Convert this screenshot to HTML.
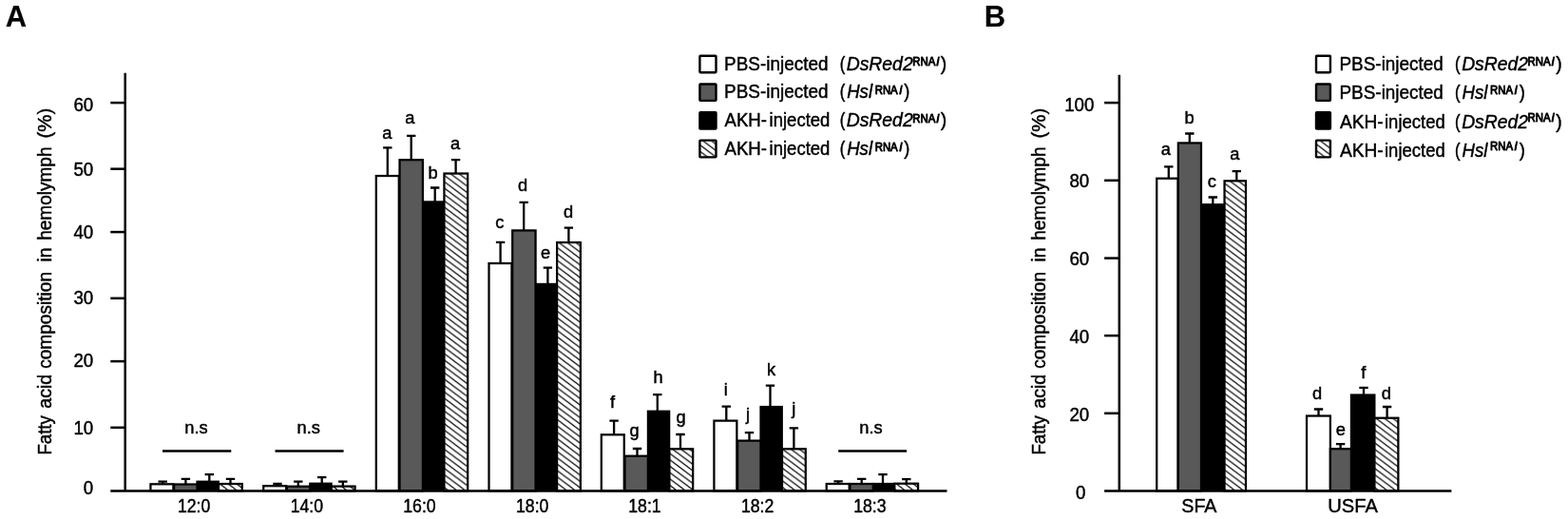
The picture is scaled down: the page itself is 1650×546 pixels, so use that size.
<!DOCTYPE html>
<html lang="en"><head><meta charset="utf-8"><title>Fatty acid composition in hemolymph</title>
<style>html,body{margin:0;padding:0;background:#fff}body{width:1650px;height:546px;overflow:hidden}svg{display:block}text{font-family:"Liberation Sans", sans-serif;fill:#000;stroke:#000;stroke-width:0.45px;stroke-linejoin:round}</style>
</head><body>
<svg width="1650" height="546" viewBox="0 0 1650 546">
<defs><pattern id="hatch" patternUnits="userSpaceOnUse" width="8.9" height="6.7" patternTransform="translate(0 0)"><rect width="8.9" height="6.7" fill="#fff"/><path d="M-8.90 -20.10L17.80 0.00M-8.90 -13.40L17.80 6.70M-8.90 -6.70L17.80 13.40M-8.90 0.00L17.80 20.10" stroke="#000" stroke-width="1.3" fill="none"/></pattern></defs>
<rect width="1650" height="546" fill="#fff"/>
<g id="figure">
<g id="panel-A">
<text x="5.8" y="28.0" font-size="31.0" font-weight="bold" style="stroke-width:0.1px">A</text>
<text transform="translate(54.1 478.60) rotate(-90)" font-size="20.2" textLength="41.50" lengthAdjust="spacingAndGlyphs">Fatty</text>
<text transform="translate(54.1 429.80) rotate(-90)" font-size="20.2" textLength="36.10" lengthAdjust="spacingAndGlyphs">acid</text>
<text transform="translate(54.1 387.80) rotate(-90)" font-size="20.2" textLength="101.80" lengthAdjust="spacingAndGlyphs">composition</text>
<text transform="translate(54.1 275.60) rotate(-90)" font-size="20.2" textLength="15.10" lengthAdjust="spacingAndGlyphs">in</text>
<text transform="translate(54.1 252.80) rotate(-90)" font-size="20.2" textLength="98.30" lengthAdjust="spacingAndGlyphs">hemolymph</text>
<text transform="translate(54.1 145.50) rotate(-90)" font-size="20.2" textLength="31.70" lengthAdjust="spacingAndGlyphs">(%)</text>
<rect x="158.43" y="509.32" width="23.95" height="7.18" fill="#fff" stroke="#000" stroke-width="2.25"/>
<rect x="206.40" y="505.60" width="24.50" height="10.90" fill="#000"/>
<rect x="183.12" y="509.52" width="24.35" height="6.98" fill="#595959" stroke="#000" stroke-width="2.25"/>
<rect x="230.03" y="509.02" width="24.75" height="7.48" fill="url(#hatch)" stroke="#000" stroke-width="2.25"/>
<rect x="277.23" y="511.23" width="23.95" height="5.27" fill="#fff" stroke="#000" stroke-width="2.25"/>
<rect x="325.20" y="507.60" width="24.50" height="8.90" fill="#000"/>
<rect x="301.93" y="511.73" width="24.35" height="4.77" fill="#595959" stroke="#000" stroke-width="2.25"/>
<rect x="348.82" y="511.62" width="24.75" height="4.88" fill="url(#hatch)" stroke="#000" stroke-width="2.25"/>
<rect x="395.82" y="185.03" width="23.95" height="331.48" fill="#fff" stroke="#000" stroke-width="2.25"/>
<rect x="443.80" y="211.30" width="24.50" height="305.20" fill="#000"/>
<rect x="420.52" y="168.22" width="24.35" height="348.27" fill="#595959" stroke="#000" stroke-width="2.25"/>
<rect x="467.43" y="182.53" width="24.75" height="333.98" fill="url(#hatch)" stroke="#000" stroke-width="2.25"/>
<rect x="514.52" y="277.02" width="23.95" height="239.48" fill="#fff" stroke="#000" stroke-width="2.25"/>
<rect x="562.50" y="297.80" width="24.50" height="218.70" fill="#000"/>
<rect x="539.23" y="242.43" width="24.35" height="274.07" fill="#595959" stroke="#000" stroke-width="2.25"/>
<rect x="586.12" y="255.03" width="24.75" height="261.48" fill="url(#hatch)" stroke="#000" stroke-width="2.25"/>
<rect x="632.83" y="457.32" width="23.95" height="59.18" fill="#fff" stroke="#000" stroke-width="2.25"/>
<rect x="680.80" y="431.60" width="24.50" height="84.90" fill="#000"/>
<rect x="657.52" y="479.73" width="24.35" height="36.77" fill="#595959" stroke="#000" stroke-width="2.25"/>
<rect x="704.42" y="472.32" width="24.75" height="44.18" fill="url(#hatch)" stroke="#000" stroke-width="2.25"/>
<rect x="751.42" y="442.62" width="23.95" height="73.88" fill="#fff" stroke="#000" stroke-width="2.25"/>
<rect x="799.40" y="426.90" width="24.50" height="89.60" fill="#000"/>
<rect x="776.12" y="463.62" width="24.35" height="52.88" fill="#595959" stroke="#000" stroke-width="2.25"/>
<rect x="823.02" y="472.32" width="24.75" height="44.18" fill="url(#hatch)" stroke="#000" stroke-width="2.25"/>
<rect x="869.73" y="509.02" width="23.95" height="7.48" fill="#fff" stroke="#000" stroke-width="2.25"/>
<rect x="917.70" y="507.90" width="24.50" height="8.60" fill="#000"/>
<rect x="894.42" y="509.02" width="24.35" height="7.48" fill="#595959" stroke="#000" stroke-width="2.25"/>
<rect x="941.33" y="508.73" width="24.75" height="7.77" fill="url(#hatch)" stroke="#000" stroke-width="2.25"/>
<path d="M166.50 506.70H175.90M171.20 506.70V509.20" stroke="#000" stroke-width="2.3" fill="none"/>
<path d="M190.70 503.90H200.10M195.40 503.90V509.40" stroke="#000" stroke-width="2.3" fill="none"/>
<path d="M215.60 499.20H225.00M220.30 499.20V506.60" stroke="#000" stroke-width="2.3" fill="none"/>
<path d="M237.80 503.90H247.20M242.50 503.90V508.90" stroke="#000" stroke-width="2.3" fill="none"/>
<text x="206.50" y="455.80" font-size="18.3" text-anchor="middle">n.s</text>
<path d="M171.0 474.5H243.3" stroke="#000" stroke-width="2.3"/>
<text x="186.88" y="538.50" font-size="19.6" text-anchor="start" textLength="34.40" lengthAdjust="spacingAndGlyphs">12:0</text>
<path d="M287.30 508.80H296.70M292.00 508.80V511.10" stroke="#000" stroke-width="2.3" fill="none"/>
<path d="M309.10 506.70H318.50M313.80 506.70V511.60" stroke="#000" stroke-width="2.3" fill="none"/>
<path d="M334.00 502.10H343.40M338.70 502.10V508.60" stroke="#000" stroke-width="2.3" fill="none"/>
<path d="M356.10 506.70H365.50M360.80 506.70V511.50" stroke="#000" stroke-width="2.3" fill="none"/>
<text x="324.80" y="455.80" font-size="18.3" text-anchor="middle">n.s</text>
<path d="M289.5 474.5H361.6" stroke="#000" stroke-width="2.3"/>
<text x="305.68" y="538.50" font-size="19.6" text-anchor="start" textLength="34.40" lengthAdjust="spacingAndGlyphs">14:0</text>
<path d="M403.10 155.40H412.50M407.80 155.40V184.90" stroke="#000" stroke-width="2.3" fill="none"/>
<text x="407.40" y="145.70" font-size="18.3" text-anchor="middle">a</text>
<path d="M428.00 142.90H437.40M432.70 142.90V168.10" stroke="#000" stroke-width="2.3" fill="none"/>
<text x="431.30" y="130.00" font-size="18.3" text-anchor="middle">a</text>
<path d="M453.00 197.50H462.40M457.70 197.50V212.30" stroke="#000" stroke-width="2.3" fill="none"/>
<text x="455.50" y="188.30" font-size="18.3" text-anchor="middle">b</text>
<path d="M474.90 168.10H484.30M479.60 168.10V182.40" stroke="#000" stroke-width="2.3" fill="none"/>
<text x="479.20" y="156.90" font-size="18.3" text-anchor="middle">a</text>
<text x="424.28" y="538.50" font-size="19.6" text-anchor="start" textLength="34.40" lengthAdjust="spacingAndGlyphs">16:0</text>
<path d="M521.90 254.90H531.30M526.60 254.90V276.90" stroke="#000" stroke-width="2.3" fill="none"/>
<text x="525.90" y="239.90" font-size="18.3" text-anchor="middle">c</text>
<path d="M546.50 212.90H555.90M551.20 212.90V242.30" stroke="#000" stroke-width="2.3" fill="none"/>
<text x="550.00" y="200.80" font-size="18.3" text-anchor="middle">d</text>
<path d="M571.70 281.70H581.10M576.40 281.70V298.80" stroke="#000" stroke-width="2.3" fill="none"/>
<text x="574.20" y="271.50" font-size="18.3" text-anchor="middle">e</text>
<path d="M593.70 239.60H603.10M598.40 239.60V254.90" stroke="#000" stroke-width="2.3" fill="none"/>
<text x="598.10" y="228.60" font-size="18.3" text-anchor="middle">d</text>
<text x="542.98" y="538.50" font-size="19.6" text-anchor="start" textLength="34.40" lengthAdjust="spacingAndGlyphs">18:0</text>
<path d="M641.40 442.70H650.80M646.10 442.70V457.20" stroke="#000" stroke-width="2.3" fill="none"/>
<text x="644.60" y="429.10" font-size="18.3" text-anchor="middle">f</text>
<path d="M665.80 472.00H675.20M670.50 472.00V479.60" stroke="#000" stroke-width="2.3" fill="none"/>
<text x="667.60" y="458.80" font-size="18.3" text-anchor="middle">g</text>
<path d="M687.10 415.20H696.50M691.80 415.20V432.60" stroke="#000" stroke-width="2.3" fill="none"/>
<text x="692.50" y="402.70" font-size="18.3" text-anchor="middle">h</text>
<path d="M711.30 457.00H720.70M716.00 457.00V472.20" stroke="#000" stroke-width="2.3" fill="none"/>
<text x="716.70" y="444.80" font-size="18.3" text-anchor="middle">g</text>
<text x="661.28" y="538.50" font-size="19.6" text-anchor="start" textLength="34.40" lengthAdjust="spacingAndGlyphs">18:1</text>
<path d="M759.60 427.60H769.00M764.30 427.60V442.50" stroke="#000" stroke-width="2.3" fill="none"/>
<text x="763.90" y="416.30" font-size="18.3" text-anchor="middle">i</text>
<path d="M783.80 455.10H793.20M788.50 455.10V463.50" stroke="#000" stroke-width="2.3" fill="none"/>
<text x="787.00" y="442.30" font-size="18.3" text-anchor="middle">j</text>
<path d="M805.80 405.60H815.20M810.50 405.60V427.90" stroke="#000" stroke-width="2.3" fill="none"/>
<text x="811.60" y="394.70" font-size="18.3" text-anchor="middle">k</text>
<path d="M830.70 450.30H840.10M835.40 450.30V472.20" stroke="#000" stroke-width="2.3" fill="none"/>
<text x="835.40" y="436.20" font-size="18.3" text-anchor="middle">j</text>
<text x="779.88" y="538.50" font-size="19.6" text-anchor="start" textLength="34.40" lengthAdjust="spacingAndGlyphs">18:2</text>
<path d="M877.40 506.30H886.80M882.10 506.30V508.90" stroke="#000" stroke-width="2.3" fill="none"/>
<path d="M902.00 503.90H911.40M906.70 503.90V508.90" stroke="#000" stroke-width="2.3" fill="none"/>
<path d="M924.30 499.20H933.70M929.00 499.20V508.90" stroke="#000" stroke-width="2.3" fill="none"/>
<path d="M949.10 504.10H958.50M953.80 504.10V508.60" stroke="#000" stroke-width="2.3" fill="none"/>
<text x="916.50" y="455.80" font-size="18.3" text-anchor="middle">n.s</text>
<path d="M882.2 474.5H954.1" stroke="#000" stroke-width="2.3"/>
<text x="898.18" y="538.50" font-size="19.6" text-anchor="start" textLength="34.40" lengthAdjust="spacingAndGlyphs">18:3</text>
<path d="M131.7 76.8V516.5" stroke="#000" stroke-width="2.5" fill="none"/>
<path d="M116.29999999999998 516.5H996.5" stroke="#000" stroke-width="2.5" fill="none"/>
<text x="98.20" y="520.20" font-size="19.6" text-anchor="end" textLength="10.41" lengthAdjust="spacingAndGlyphs">0</text>
<path d="M116.29999999999998 449.8H131.7" stroke="#000" stroke-width="2.5" fill="none"/>
<text x="98.20" y="457.00" font-size="19.6" text-anchor="end" textLength="20.81" lengthAdjust="spacingAndGlyphs">10</text>
<path d="M116.29999999999998 380.1H131.7" stroke="#000" stroke-width="2.5" fill="none"/>
<text x="98.20" y="386.30" font-size="19.6" text-anchor="end" textLength="20.81" lengthAdjust="spacingAndGlyphs">20</text>
<path d="M116.29999999999998 313.8H131.7" stroke="#000" stroke-width="2.5" fill="none"/>
<text x="98.20" y="320.20" font-size="19.6" text-anchor="end" textLength="20.81" lengthAdjust="spacingAndGlyphs">30</text>
<path d="M116.29999999999998 244.1H131.7" stroke="#000" stroke-width="2.5" fill="none"/>
<text x="98.20" y="251.10" font-size="19.6" text-anchor="end" textLength="20.81" lengthAdjust="spacingAndGlyphs">40</text>
<path d="M116.29999999999998 177.7H131.7" stroke="#000" stroke-width="2.5" fill="none"/>
<text x="98.20" y="184.70" font-size="19.6" text-anchor="end" textLength="20.81" lengthAdjust="spacingAndGlyphs">50</text>
<path d="M116.29999999999998 108.1H131.7" stroke="#000" stroke-width="2.5" fill="none"/>
<text x="98.20" y="117.00" font-size="19.6" text-anchor="end" textLength="20.81" lengthAdjust="spacingAndGlyphs">60</text>
<rect x="736.40" y="58.80" width="17.10" height="17.40" rx="0.6" fill="#fff" stroke="#000" stroke-width="2.4"/>
<text x="762.07" y="73.50" font-size="20" textLength="109.42" lengthAdjust="spacingAndGlyphs">PBS-injected</text>
<text x="883.68" y="73.50" font-size="20" textLength="5.59" lengthAdjust="spacingAndGlyphs">(</text>
<text x="890.73" y="73.50" font-size="20" font-style="italic" textLength="69.93" lengthAdjust="spacingAndGlyphs">DsRed2</text>
<text x="960.16" y="68.80" font-size="12.3" style="stroke-width:0.9px" textLength="24.16" lengthAdjust="spacingAndGlyphs">RNA</text>
<text x="985.45" y="68.80" font-size="12.9" font-style="italic" style="stroke-width:1.1px" textLength="2.72" lengthAdjust="spacingAndGlyphs">i</text>
<text x="989.81" y="73.50" font-size="20" textLength="6.47" lengthAdjust="spacingAndGlyphs">)</text>
<rect x="736.40" y="88.50" width="17.10" height="17.40" rx="0.6" fill="#595959" stroke="#000" stroke-width="2.4"/>
<text x="762.07" y="103.40" font-size="20" textLength="109.42" lengthAdjust="spacingAndGlyphs">PBS-injected</text>
<text x="883.68" y="103.40" font-size="20" textLength="5.59" lengthAdjust="spacingAndGlyphs">(</text>
<text x="891.15" y="103.40" font-size="20" font-style="italic" textLength="26.9" lengthAdjust="spacingAndGlyphs">Hsl</text>
<text x="920.67" y="98.70" font-size="12.3" style="stroke-width:0.9px" textLength="24.06" lengthAdjust="spacingAndGlyphs">RNA</text>
<text x="946.40" y="98.70" font-size="12.9" font-style="italic" style="stroke-width:1.1px" textLength="2.72" lengthAdjust="spacingAndGlyphs">i</text>
<text x="951.32" y="103.40" font-size="20" textLength="6.09" lengthAdjust="spacingAndGlyphs">)</text>
<rect x="736.40" y="118.20" width="17.10" height="17.30" rx="0.6" fill="#000" stroke="#000" stroke-width="2.4"/>
<text x="762.49" y="133.40" font-size="20" textLength="44.51" lengthAdjust="spacingAndGlyphs">AKH-</text>
<text x="809.59" y="133.40" font-size="20" textLength="63.78" lengthAdjust="spacingAndGlyphs">injected</text>
<text x="883.68" y="133.40" font-size="20" textLength="5.59" lengthAdjust="spacingAndGlyphs">(</text>
<text x="890.73" y="133.40" font-size="20" font-style="italic" textLength="69.93" lengthAdjust="spacingAndGlyphs">DsRed2</text>
<text x="960.16" y="128.70" font-size="12.3" style="stroke-width:0.9px" textLength="24.16" lengthAdjust="spacingAndGlyphs">RNA</text>
<text x="985.45" y="128.70" font-size="12.9" font-style="italic" style="stroke-width:1.1px" textLength="2.72" lengthAdjust="spacingAndGlyphs">i</text>
<text x="989.81" y="133.40" font-size="20" textLength="6.47" lengthAdjust="spacingAndGlyphs">)</text>
<rect x="736.40" y="147.60" width="17.10" height="17.80" rx="0.6" fill="url(#hatch)" stroke="#000" stroke-width="2.4"/>
<text x="762.49" y="163.30" font-size="20" textLength="44.51" lengthAdjust="spacingAndGlyphs">AKH-</text>
<text x="809.59" y="163.30" font-size="20" textLength="63.78" lengthAdjust="spacingAndGlyphs">injected</text>
<text x="883.68" y="163.30" font-size="20" textLength="5.59" lengthAdjust="spacingAndGlyphs">(</text>
<text x="891.15" y="163.30" font-size="20" font-style="italic" textLength="26.9" lengthAdjust="spacingAndGlyphs">Hsl</text>
<text x="920.67" y="158.60" font-size="12.3" style="stroke-width:0.9px" textLength="24.06" lengthAdjust="spacingAndGlyphs">RNA</text>
<text x="946.40" y="158.60" font-size="12.9" font-style="italic" style="stroke-width:1.1px" textLength="2.72" lengthAdjust="spacingAndGlyphs">i</text>
<text x="951.32" y="163.30" font-size="20" textLength="6.09" lengthAdjust="spacingAndGlyphs">)</text>
</g>
<g id="panel-B">
<text x="1035.8" y="28.0" font-size="31.0" font-weight="bold" style="stroke-width:0.1px">B</text>
<text transform="translate(1100.1 478.60) rotate(-90)" font-size="20.2" textLength="41.50" lengthAdjust="spacingAndGlyphs">Fatty</text>
<text transform="translate(1100.1 429.80) rotate(-90)" font-size="20.2" textLength="36.10" lengthAdjust="spacingAndGlyphs">acid</text>
<text transform="translate(1100.1 387.80) rotate(-90)" font-size="20.2" textLength="101.80" lengthAdjust="spacingAndGlyphs">composition</text>
<text transform="translate(1100.1 275.60) rotate(-90)" font-size="20.2" textLength="15.10" lengthAdjust="spacingAndGlyphs">in</text>
<text transform="translate(1100.1 252.80) rotate(-90)" font-size="20.2" textLength="98.30" lengthAdjust="spacingAndGlyphs">hemolymph</text>
<text transform="translate(1100.1 145.50) rotate(-90)" font-size="20.2" textLength="31.70" lengthAdjust="spacingAndGlyphs">(%)</text>
<rect x="1217.22" y="187.72" width="22.35" height="328.77" fill="#fff" stroke="#000" stroke-width="2.25"/>
<rect x="1263.00" y="214.10" width="26.50" height="302.40" fill="#000"/>
<rect x="1239.83" y="150.43" width="24.15" height="366.07" fill="#595959" stroke="#000" stroke-width="2.25"/>
<rect x="1288.53" y="190.32" width="22.45" height="326.18" fill="url(#hatch)" stroke="#000" stroke-width="2.25"/>
<rect x="1375.03" y="437.52" width="24.85" height="78.98" fill="#fff" stroke="#000" stroke-width="2.25"/>
<rect x="1420.80" y="414.40" width="26.70" height="102.10" fill="#000"/>
<rect x="1399.88" y="472.23" width="22.00" height="44.27" fill="#595959" stroke="#000" stroke-width="2.25"/>
<rect x="1446.42" y="439.73" width="24.95" height="76.77" fill="url(#hatch)" stroke="#000" stroke-width="2.25"/>
<path d="M1225.10 175.40H1234.50M1229.80 175.40V187.60" stroke="#000" stroke-width="2.3" fill="none"/>
<text x="1226.90" y="162.80" font-size="18.3" text-anchor="middle">a</text>
<path d="M1247.10 140.50H1256.50M1251.80 140.50V150.30" stroke="#000" stroke-width="2.3" fill="none"/>
<text x="1251.50" y="130.00" font-size="18.3" text-anchor="middle">b</text>
<path d="M1271.60 207.50H1281.00M1276.30 207.50V215.10" stroke="#000" stroke-width="2.3" fill="none"/>
<text x="1275.30" y="197.30" font-size="18.3" text-anchor="middle">c</text>
<path d="M1296.60 180.10H1306.00M1301.30 180.10V190.20" stroke="#000" stroke-width="2.3" fill="none"/>
<text x="1299.40" y="167.60" font-size="18.3" text-anchor="middle">a</text>
<text x="1243.26" y="538.60" font-size="20.2" text-anchor="start" textLength="37.21" lengthAdjust="spacingAndGlyphs">SFA</text>
<path d="M1382.80 430.50H1392.20M1387.50 430.50V437.40" stroke="#000" stroke-width="2.3" fill="none"/>
<text x="1386.00" y="420.30" font-size="18.3" text-anchor="middle">d</text>
<path d="M1405.90 467.10H1415.30M1410.60 467.10V472.10" stroke="#000" stroke-width="2.3" fill="none"/>
<text x="1410.80" y="457.70" font-size="18.3" text-anchor="middle">e</text>
<path d="M1430.30 407.80H1439.70M1435.00 407.80V415.40" stroke="#000" stroke-width="2.3" fill="none"/>
<text x="1434.70" y="398.30" font-size="18.3" text-anchor="middle">f</text>
<path d="M1454.90 428.00H1464.30M1459.60 428.00V439.60" stroke="#000" stroke-width="2.3" fill="none"/>
<text x="1458.90" y="419.90" font-size="18.3" text-anchor="middle">d</text>
<text x="1397.30" y="538.60" font-size="20.2" text-anchor="start" textLength="52.56" lengthAdjust="spacingAndGlyphs">USFA</text>
<path d="M1177.8 78.8V516.5" stroke="#000" stroke-width="2.5" fill="none"/>
<path d="M1162.1 516.5H1527.4" stroke="#000" stroke-width="2.5" fill="none"/>
<text x="1137.20" y="525.10" font-size="19.6" text-anchor="middle" textLength="10.41" lengthAdjust="spacingAndGlyphs">0</text>
<path d="M1162.1 434.8H1177.8" stroke="#000" stroke-width="2.5" fill="none"/>
<text x="1135.80" y="442.80" font-size="19.6" text-anchor="middle" textLength="20.81" lengthAdjust="spacingAndGlyphs">20</text>
<path d="M1162.1 353.1H1177.8" stroke="#000" stroke-width="2.5" fill="none"/>
<text x="1135.80" y="360.80" font-size="19.6" text-anchor="middle" textLength="20.81" lengthAdjust="spacingAndGlyphs">40</text>
<path d="M1162.1 271.6H1177.8" stroke="#000" stroke-width="2.5" fill="none"/>
<text x="1135.80" y="279.10" font-size="19.6" text-anchor="middle" textLength="20.81" lengthAdjust="spacingAndGlyphs">60</text>
<path d="M1162.1 189.8H1177.8" stroke="#000" stroke-width="2.5" fill="none"/>
<text x="1135.80" y="197.20" font-size="19.6" text-anchor="middle" textLength="20.81" lengthAdjust="spacingAndGlyphs">80</text>
<path d="M1162.1 108.1H1177.8" stroke="#000" stroke-width="2.5" fill="none"/>
<text x="1135.80" y="116.60" font-size="19.6" text-anchor="middle" textLength="31.22" lengthAdjust="spacingAndGlyphs">100</text>
<rect x="1385.00" y="58.80" width="14.90" height="17.40" rx="0.6" fill="#fff" stroke="#000" stroke-width="2.4"/>
<text x="1409.47" y="73.50" font-size="20" textLength="109.42" lengthAdjust="spacingAndGlyphs">PBS-injected</text>
<text x="1531.08" y="73.50" font-size="20" textLength="5.59" lengthAdjust="spacingAndGlyphs">(</text>
<text x="1538.13" y="73.50" font-size="20" font-style="italic" textLength="69.93" lengthAdjust="spacingAndGlyphs">DsRed2</text>
<text x="1607.56" y="68.80" font-size="12.3" style="stroke-width:0.9px" textLength="24.16" lengthAdjust="spacingAndGlyphs">RNA</text>
<text x="1632.85" y="68.80" font-size="12.9" font-style="italic" style="stroke-width:1.1px" textLength="2.72" lengthAdjust="spacingAndGlyphs">i</text>
<text x="1637.21" y="73.50" font-size="20" textLength="6.47" lengthAdjust="spacingAndGlyphs">)</text>
<rect x="1385.00" y="88.50" width="14.90" height="17.40" rx="0.6" fill="#595959" stroke="#000" stroke-width="2.4"/>
<text x="1409.47" y="103.50" font-size="20" textLength="109.42" lengthAdjust="spacingAndGlyphs">PBS-injected</text>
<text x="1531.08" y="103.50" font-size="20" textLength="5.59" lengthAdjust="spacingAndGlyphs">(</text>
<text x="1538.55" y="103.50" font-size="20" font-style="italic" textLength="26.9" lengthAdjust="spacingAndGlyphs">Hsl</text>
<text x="1568.07" y="98.80" font-size="12.3" style="stroke-width:0.9px" textLength="24.06" lengthAdjust="spacingAndGlyphs">RNA</text>
<text x="1593.80" y="98.80" font-size="12.9" font-style="italic" style="stroke-width:1.1px" textLength="2.72" lengthAdjust="spacingAndGlyphs">i</text>
<text x="1598.72" y="103.50" font-size="20" textLength="6.09" lengthAdjust="spacingAndGlyphs">)</text>
<rect x="1385.00" y="118.20" width="14.90" height="17.30" rx="0.6" fill="#000" stroke="#000" stroke-width="2.4"/>
<text x="1409.89" y="135.00" font-size="20" textLength="45.84" lengthAdjust="spacingAndGlyphs">AKH-</text>
<text x="1456.99" y="135.00" font-size="20" textLength="63.78" lengthAdjust="spacingAndGlyphs">injected</text>
<text x="1531.08" y="135.00" font-size="20" textLength="5.59" lengthAdjust="spacingAndGlyphs">(</text>
<text x="1538.13" y="135.00" font-size="20" font-style="italic" textLength="69.93" lengthAdjust="spacingAndGlyphs">DsRed2</text>
<text x="1607.56" y="127.90" font-size="12.3" style="stroke-width:0.9px" textLength="24.16" lengthAdjust="spacingAndGlyphs">RNA</text>
<text x="1632.85" y="127.90" font-size="12.9" font-style="italic" style="stroke-width:1.1px" textLength="2.72" lengthAdjust="spacingAndGlyphs">i</text>
<text x="1637.21" y="135.00" font-size="20" textLength="6.47" lengthAdjust="spacingAndGlyphs">)</text>
<rect x="1385.00" y="147.60" width="14.90" height="17.80" rx="0.6" fill="url(#hatch)" stroke="#000" stroke-width="2.4"/>
<text x="1409.89" y="165.00" font-size="20" textLength="45.84" lengthAdjust="spacingAndGlyphs">AKH-</text>
<text x="1456.99" y="165.00" font-size="20" textLength="63.78" lengthAdjust="spacingAndGlyphs">injected</text>
<text x="1531.08" y="165.00" font-size="20" textLength="5.59" lengthAdjust="spacingAndGlyphs">(</text>
<text x="1538.55" y="165.00" font-size="20" font-style="italic" textLength="26.9" lengthAdjust="spacingAndGlyphs">Hsl</text>
<text x="1568.07" y="157.90" font-size="12.3" style="stroke-width:0.9px" textLength="24.06" lengthAdjust="spacingAndGlyphs">RNA</text>
<text x="1593.80" y="157.90" font-size="12.9" font-style="italic" style="stroke-width:1.1px" textLength="2.72" lengthAdjust="spacingAndGlyphs">i</text>
<text x="1598.72" y="165.00" font-size="20" textLength="6.09" lengthAdjust="spacingAndGlyphs">)</text>
</g>
</g>
</svg>
</body></html>
